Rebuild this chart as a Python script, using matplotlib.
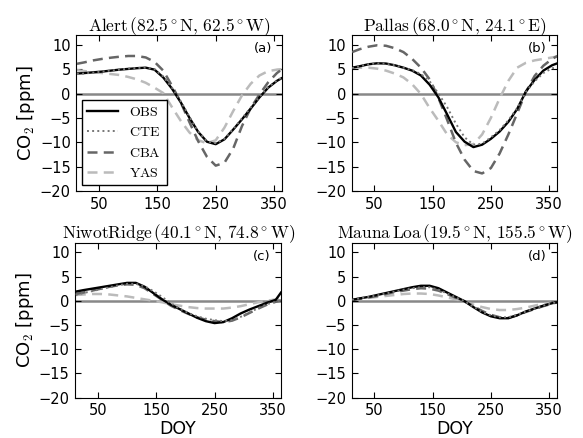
"""
Seasonal CO2 cycle at four stations: observations vs. three inversions.
"""

import matplotlib
import matplotlib.pyplot as plt

matplotlib.use("Agg")

plt.rcParams["mathtext.fontset"] = "cm"

DOY = [12, 25, 40, 55, 70, 85, 100, 115, 130, 145, 160, 175, 190,
       205, 220, 235, 250, 265, 280, 295, 310, 325, 340, 355, 364]

# ── Alert ───────────────────────────────────────────────────────────────
ALERT_OBS = [4.1, 4.2, 4.35, 4.5, 4.7, 4.9, 5.05, 5.2, 5.3, 4.9, 3.3, 1.0, -1.8,
             -5.0, -7.9, -9.9, -10.4, -9.4, -7.4, -5.3, -3.1, -0.8, 1.2, 2.6, 3.2]
ALERT_CTE = [4.0, 4.1, 4.3, 4.5, 4.7, 4.9, 5.1, 5.25, 5.3, 5.0, 3.5, 1.2, -1.6,
             -4.8, -7.8, -9.8, -10.2, -9.3, -7.3, -5.1, -2.9, -0.7, 1.3, 2.7, 3.3]
ALERT_CBA = [6.1, 6.4, 6.8, 7.1, 7.35, 7.55, 7.7, 7.7, 7.4, 6.5, 4.7, 1.6, -1.8,
             -5.9, -9.8, -13.0, -14.8, -14.2, -11.3, -6.7, -3.0, -0.2, 2.3, 4.2, 5.0]
ALERT_YAS = [4.8, 4.6, 4.4, 4.2, 4.0, 3.8, 3.4, 2.9, 2.2, 1.2, 0.1, -2.8, -5.6,
             -8.0, -9.6, -10.2, -9.6, -7.0, -3.6, -0.4, 2.0, 3.7, 4.6, 4.9, 5.0]

# ── Pallas ──────────────────────────────────────────────────────────────
PALLAS_OBS = [5.3, 5.6, 6.0, 6.2, 6.15, 5.8, 5.3, 4.7, 3.7, 1.8, -0.8, -4.3, -7.9,
              -9.9, -11.0, -10.5, -9.3, -7.8, -5.8, -3.2, 0.4, 2.8, 4.7, 5.8, 6.2]
PALLAS_CTE = [5.2, 5.6, 6.0, 6.2, 6.1, 5.8, 5.3, 4.8, 4.0, 2.5, 0.0, -2.8, -6.2,
              -9.0, -10.5, -10.3, -9.0, -7.5, -5.5, -3.0, 0.3, 2.5, 4.2, 5.2, 5.2]
PALLAS_CBA = [8.5, 9.1, 9.6, 9.9, 9.8, 9.3, 8.5, 7.1, 5.3, 2.9, -0.9, -5.4, -10.1,
              -13.6, -15.9, -16.4, -15.3, -12.3, -8.4, -4.1, 0.3, 3.6, 5.7, 7.1, 7.7]
PALLAS_YAS = [5.3, 5.3, 5.3, 5.1, 4.7, 4.1, 3.3, 1.9, -0.1, -3.0, -5.6, -8.4, -10.0,
              -10.6, -10.4, -8.4, -5.0, -1.0, 2.6, 5.3, 6.3, 6.8, 7.1, 7.4, 7.6]

# ── Niwot Ridge ─────────────────────────────────────────────────────────
NIWOT_OBS = [1.9, 2.2, 2.5, 2.8, 3.1, 3.4, 3.7, 3.7, 2.9, 1.6, 0.3, -0.8, -1.7,
             -2.6, -3.5, -4.2, -4.6, -4.4, -3.6, -2.6, -1.8, -1.1, -0.4, 0.2, 1.7]
NIWOT_CTE = [1.2, 1.6, 2.0, 2.4, 2.8, 3.2, 3.5, 3.5, 3.0, 2.0, 0.8, -0.5, -1.6,
             -2.5, -3.2, -3.7, -4.0, -4.2, -4.0, -3.3, -2.4, -1.5, -0.7, -0.2, 0.2]
NIWOT_CBA = [1.4, 1.7, 2.1, 2.5, 2.9, 3.2, 3.4, 3.3, 2.6, 1.4, 0.2, -1.0, -1.9,
             -2.7, -3.4, -3.9, -4.2, -4.4, -4.1, -3.4, -2.5, -1.6, -0.8, -0.2, 0.1]
NIWOT_YAS = [1.2, 1.3, 1.4, 1.4, 1.3, 1.1, 0.9, 0.6, 0.3, 0.0, -0.3, -0.7, -1.0,
             -1.3, -1.5, -1.6, -1.6, -1.6, -1.4, -1.1, -0.7, -0.3, 0.0, 0.3, 0.5]

# ── Mauna Loa ───────────────────────────────────────────────────────────
MLO_OBS = [0.2, 0.5, 0.8, 1.2, 1.6, 2.0, 2.4, 2.8, 3.1, 3.1, 2.6, 1.7, 0.8,
           -0.1, -1.3, -2.4, -3.2, -3.6, -3.6, -3.0, -2.2, -1.6, -1.0, -0.5, -0.3]
MLO_CTE = [0.2, 0.5, 0.8, 1.1, 1.5, 1.9, 2.3, 2.6, 2.8, 2.8, 2.3, 1.5, 0.7,
           -0.1, -1.2, -2.3, -3.0, -3.4, -3.4, -2.9, -2.2, -1.6, -1.0, -0.5, -0.3]
MLO_CBA = [0.2, 0.4, 0.7, 1.0, 1.4, 1.8, 2.1, 2.4, 2.6, 2.5, 2.1, 1.4, 0.6,
           -0.1, -1.1, -2.1, -2.9, -3.4, -3.5, -3.0, -2.3, -1.7, -1.1, -0.6, -0.3]
MLO_YAS = [0.2, 0.4, 0.6, 0.8, 1.0, 1.2, 1.4, 1.5, 1.5, 1.4, 1.1, 0.7, 0.3,
           -0.2, -0.8, -1.3, -1.7, -1.9, -1.9, -1.7, -1.4, -1.0, -0.6, -0.4, -0.3]

STATIONS = [
    (r"$\mathrm{Alert}\,(82.5^\circ\mathrm{N},\,62.5^\circ\mathrm{W})$", "(a)",
     ALERT_OBS, ALERT_CTE, ALERT_CBA, ALERT_YAS),
    (r"$\mathrm{Pallas}\,(68.0^\circ\mathrm{N},\,24.1^\circ\mathrm{E})$", "(b)",
     PALLAS_OBS, PALLAS_CTE, PALLAS_CBA, PALLAS_YAS),
    (r"$\mathrm{NiwotRidge}\,(40.1^\circ\mathrm{N},\,74.8^\circ\mathrm{W})$", "(c)",
     NIWOT_OBS, NIWOT_CTE, NIWOT_CBA, NIWOT_YAS),
    (r"$\mathrm{Mauna\,Loa}\,(19.5^\circ\mathrm{N},\,155.5^\circ\mathrm{W})$", "(d)",
     MLO_OBS, MLO_CTE, MLO_CBA, MLO_YAS),
]

# axes rects in figure fraction [left, bottom, width, height]
RECTS = [
    [0.131, 0.564, 0.353, 0.356],
    [0.603, 0.564, 0.353, 0.356],
    [0.129, 0.092, 0.353, 0.354],
    [0.603, 0.092, 0.353, 0.354],
]


def main():
    fig = plt.figure(figsize=(5.83, 4.38), dpi=100)

    for i, (title, tag, obs, cte, cba, yas) in enumerate(STATIONS):
        ax = fig.add_axes(RECTS[i])
        ax.axhline(0, color="#888888", linewidth=1.8, zorder=1)
        ax.plot(DOY, yas, color="#bbbbbb", linestyle="--", linewidth=1.8,
                dashes=(4, 2.5), label=r"$\mathrm{YAS}$", zorder=2)
        ax.plot(DOY, cba, color="#666666", linestyle="--", linewidth=1.8,
                dashes=(4, 2.5), label=r"$\mathrm{CBA}$", zorder=3)
        ax.plot(DOY, obs, color="black", linewidth=1.7, label=r"$\mathrm{OBS}$", zorder=4)
        ax.plot(DOY, cte, color="#777777", linestyle=":", linewidth=1.4,
                label=r"$\mathrm{CTE}$", zorder=5)

        ax.set_xlim(11, 364)
        ax.set_ylim(-20, 12)
        ax.set_xticks([50, 150, 250, 350])
        ax.set_yticks([-20, -15, -10, -5, 0, 5, 10])
        ax.tick_params(direction="in", top=True, right=True, length=4,
                       labelsize=10.5, pad=4)
        ax.set_title(title, fontsize=12.5, pad=3)
        ax.text(0.95, 0.955, tag, transform=ax.transAxes,
                ha="right", va="top", fontsize=9.5)

        if i % 2 == 0:
            ax.set_ylabel(r"CO$_2$ [ppm]", fontsize=13, labelpad=2)
        if i >= 2:
            ax.set_xlabel("DOY", fontsize=12.5, labelpad=1)

        if i == 0:
            handles, labels = ax.get_legend_handles_labels()
            order = [2, 3, 1, 0]
            leg = ax.legend([handles[k] for k in order], [labels[k] for k in order],
                            loc="lower left", fontsize=10, fancybox=False,
                            framealpha=1, edgecolor="black", handlelength=2.2,
                            borderaxespad=0.4, labelspacing=0.45)
            leg.get_frame().set_linewidth(1.0)

    fig.savefig("out.png", dpi=100)
    plt.close(fig)


if __name__ == "__main__":
    main()
